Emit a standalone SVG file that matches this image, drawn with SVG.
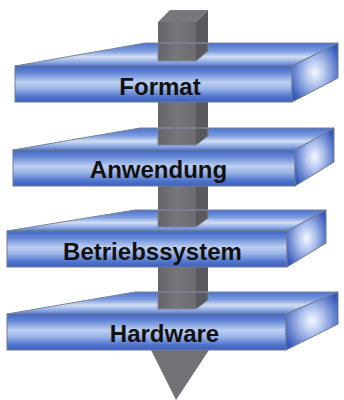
<svg xmlns="http://www.w3.org/2000/svg" width="344" height="400" viewBox="0 0 344 400">
<style>
.front{fill:url(#frontGrad);stroke:#6f7a94;stroke-width:1}
.top{fill:url(#topGrad);fill-rule:evenodd;stroke:#7c8496;stroke-width:1}
.side{fill:url(#sideGrad);stroke:#6f7a94;stroke-width:1}
.lbl{font-family:"Liberation Sans",Arial,sans-serif;font-weight:bold;font-size:24px;fill:#111;text-anchor:middle}
.pf{fill:url(#poleGrad)}
.ps{fill:#58585d}
.pt{fill:#77777c}
.tip{fill:#727276}
</style>
<defs>
<linearGradient id="frontGrad" x1="0" y1="0" x2="0" y2="1">
<stop offset="0" stop-color="#4166c3"/>
<stop offset="0.18" stop-color="#6285d5"/>
<stop offset="0.45" stop-color="#bccff1"/>
<stop offset="0.62" stop-color="#9db6e8"/>
<stop offset="0.85" stop-color="#5075cc"/>
<stop offset="1" stop-color="#3d60be"/>
</linearGradient>
<linearGradient id="topGrad" x1="0" y1="0" x2="0" y2="1">
<stop offset="0" stop-color="#4a70cc"/>
<stop offset="0.35" stop-color="#7d9cde"/>
<stop offset="0.6" stop-color="#d2def5"/>
<stop offset="0.85" stop-color="#88a5e0"/>
<stop offset="1" stop-color="#5579cf"/>
</linearGradient>
<radialGradient id="sideGrad" cx="0.5" cy="0.5" r="0.6">
<stop offset="0" stop-color="#f6f8fe"/>
<stop offset="0.35" stop-color="#b5c7ef"/>
<stop offset="1" stop-color="#3558bb"/>
</radialGradient>
<linearGradient id="poleGrad" x1="0" y1="0" x2="1" y2="0">
<stop offset="0" stop-color="#656569"/>
<stop offset="0.5" stop-color="#77777b"/>
<stop offset="1" stop-color="#6c6c70"/>
</linearGradient>
</defs>
<rect width="344" height="400" fill="#ffffff"/>
<g id="connectors">
<g id="pole">
<polygon class="pt" points="158,22 170,10 208,10 196,22"/>
<rect class="pf" x="158" y="22" width="38" height="330"/>
<polygon class="ps" points="196,22 208,10 208,340 196,352"/>
<polygon class="tip" points="151,350 209,350 176,400"/>
</g>
</g>
<g id="format">
<path class="top" d="M15,66 L145,43 L338,43 L292,66 Z M158,43 L208,43 L208,51 L196,61 L158,61 Z"/>
<rect class="front" x="15" y="66" width="277" height="36"/>
<polygon class="side" points="292,66 338,43 338,78 292,102"/>
<text class="lbl" x="160" y="95">Format</text>
</g>
<g id="anwendung">
<path class="top" d="M13,150 L140,128 L334,128 L295,150 Z M158,128 L208,128 L208,136 L196,145 L158,145 Z"/>
<rect class="front" x="13" y="150" width="282" height="36"/>
<polygon class="side" points="295,150 334,128 334,162 295,186"/>
<text class="lbl" x="158.5" y="178">Anwendung</text>
</g>
<g id="betriebssystem">
<path class="top" d="M7,231 L135,210 L326,210 L287,231 Z M158,210 L208,210 L208,218 L196,227 L158,227 Z"/>
<rect class="front" x="7" y="231" width="280" height="36"/>
<polygon class="side" points="287,231 326,210 326,243 287,267"/>
<text class="lbl" x="152.5" y="260">Betriebssystem</text>
</g>
<g id="hardware">
<path class="top" d="M7,314 L135,292 L338,292 L286,314 Z M158,292 L208,292 L208,300 L196,309 L158,309 Z"/>
<rect class="front" x="7" y="314" width="279" height="36"/>
<polygon class="side" points="286,314 338,292 338,324 286,350"/>
<text class="lbl" x="164.5" y="342">Hardware</text>
</g>
</svg>
